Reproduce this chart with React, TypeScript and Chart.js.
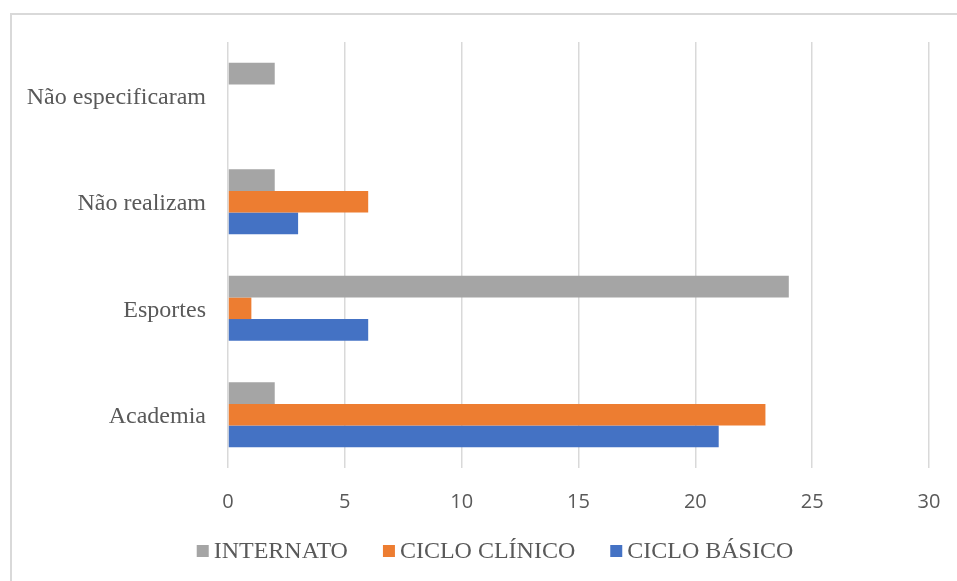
import React, { useEffect, useRef } from "react";
import { Chart, registerables } from "chart.js";

Chart.register(...registerables);

// Categories listed top to bottom
const categories = ["Não especificaram", "Não realizam", "Esportes", "Academia"];

const seriesNames = ["INTERNATO", "CICLO CLÍNICO", "CICLO BÁSICO"];
const internato = [2, 2, 24, 2];
const cicloClinico = [null, 6, 1, 23];
const cicloBasico = [null, 3, 6, 21];

const xTicks = [0, 5, 10, 15, 20, 25, 30];

const colors = ["#A5A5A5", "#ED7D31", "#4472C4"];
const textColor = "#595959";
const gridColor = "#D9D9D9";
const serif = '"Liberation Serif", "Times New Roman", serif';
const sans = '"Open Sans", "Noto Sans", sans-serif';

// Legend drawn below the axis, centred under the plot
const bottomLegend = {
  id: "bottomLegend",
  afterDraw(chart: any) {
    const ctx = chart.ctx;
    const box = 12;
    const textGap = 5;
    const itemGap = 35;
    const centerX = 495;
    const centerY = 551;
    ctx.save();
    ctx.font = `24px ${serif}`;
    const widths = chart.data.datasets.map(
      (d: any) => box + textGap + ctx.measureText(d.label).width
    );
    const total = widths.reduce((a: number, b: number) => a + b, 0) + itemGap * (widths.length - 1);
    let x = centerX - total / 2;
    chart.data.datasets.forEach((d: any, i: number) => {
      ctx.fillStyle = d.backgroundColor;
      ctx.fillRect(x, centerY - box / 2, box, box);
      ctx.fillStyle = textColor;
      ctx.textBaseline = "middle";
      ctx.textAlign = "left";
      ctx.fillText(d.label, x + box + textGap, centerY + 1);
      x += widths[i] + itemGap;
    });
    ctx.restore();
  },
};

export default function App() {
  const canvasRef = useRef<HTMLCanvasElement | null>(null);

  useEffect(() => {
    if (!canvasRef.current) return;
    const values = [internato, cicloClinico, cicloBasico];
    const chart = new Chart(canvasRef.current, {
      type: "bar",
      data: {
        labels: categories,
        datasets: seriesNames.map((name, i) => ({
          label: name,
          data: values[i],
          backgroundColor: colors[i],
          borderWidth: 0,
          barPercentage: 1,
          categoryPercentage: 0.61,
        })),
      },
      options: {
        indexAxis: "y",
        animation: false,
        responsive: false,
        maintainAspectRatio: false,
        layout: { padding: { top: 42, right: 28, left: 0, bottom: 55 } },
        plugins: {
          legend: { display: false },
          tooltip: { enabled: false },
        },
        scales: {
          x: {
            min: 0,
            max: 30,
            afterBuildTicks: (scale: any) => {
              scale.ticks = xTicks.map((v) => ({ value: v }));
            },
            grid: { color: gridColor, lineWidth: 1.5, drawTicks: false },
            border: { display: false },
            ticks: {
              color: textColor,
              font: { family: sans, size: 20 },
              padding: 22,
              maxRotation: 0,
            },
            afterFit: (scale: any) => {
              scale.height = 58;
              scale.paddingRight = 0;
              scale.paddingLeft = 0;
            },
          },
          y: {
            grid: { display: false, drawTicks: false },
            border: { display: false },
            ticks: {
              color: textColor,
              font: { family: serif, size: 24 },
              padding: 22,
              labelOffset: 2,
            },
            afterFit: (scale: any) => {
              scale.width = 228;
            },
          },
        },
      },
      plugins: [bottomLegend],
    });
    return () => chart.destroy();
  }, []);

  return (
    <div style={{ position: "absolute", left: 0, top: 0, width: 957, height: 581, background: "#fff", overflow: "hidden" }}>
      <div
        style={{
          position: "absolute",
          left: 10,
          top: 13,
          width: 960,
          height: 600,
          borderTop: `2px solid ${gridColor}`,
          borderLeft: `2px solid ${gridColor}`,
          boxSizing: "border-box",
        }}
      />
      <canvas ref={canvasRef} width={957} height={581} style={{ position: "absolute", left: 0, top: 0 }} />
    </div>
  );
}
